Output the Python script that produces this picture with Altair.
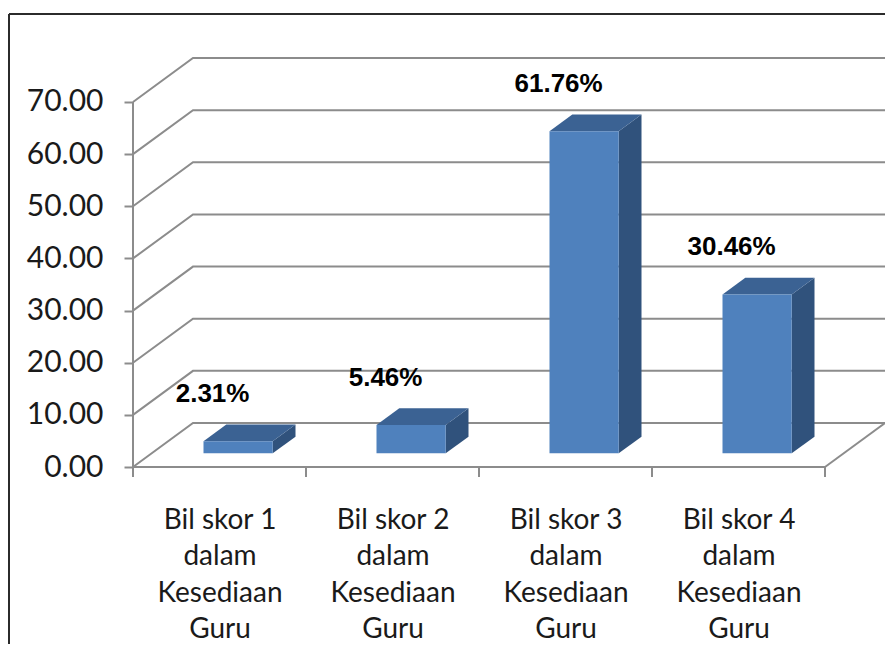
import altair as alt
import pandas as pd

# ---------------- data ----------------
label_lines = [
    ["Bil skor 1", "dalam", "Kesediaan", "Guru"],
    ["Bil skor 2", "dalam", "Kesediaan", "Guru"],
    ["Bil skor 3", "dalam", "Kesediaan", "Guru"],
    ["Bil skor 4", "dalam", "Kesediaan", "Guru"],
]
values = [2.31, 5.46, 61.76, 30.46]
value_labels = ["2.31%", "5.46%", "61.76%", "30.46%"]
y_ticks = [0, 10, 20, 30, 40, 50, 60, 70]

# ---------------- 3D geometry (in data units) ----------------
N = len(values)
YMAX = 70
W = 752          # plot width incl. depth
DEPTH_PX = 60
DX = DEPTH_PX / ((W - DEPTH_PX) / N)   # depth offset along x (category units)
DY = 8.438       # depth offset along y (value units)
F0, F1 = 0.31, 0.69   # bar depth span (fraction of the box depth)
HW = 0.2         # half bar width (category units)

GRID = "#8c8c8c"
FRONT = "#4f81bd"
SIDE = "#30527c"
TOP = "#3b6293"

# lines: back-wall gridlines, floor edges, value axis line
line_rows = []
lid = 0
for t in y_ticks:
    pts = [(0, t), (DX, t + DY), (N + DX, t + DY)]
    for k, (px, py) in enumerate(pts):
        line_rows.append({"id": lid, "o": k, "x": px, "y": py})
    lid += 1
for pts in ([(N, 0), (N + DX, DY)], [(0, 0), (N, 0)], [(0, 0), (0, YMAX)]):
    for k, (px, py) in enumerate(pts):
        line_rows.append({"id": lid, "o": k, "x": px, "y": py})
    lid += 1
lines_df = pd.DataFrame(line_rows)

front_rows, side_rows, top_rows, text_rows = [], [], [], []
for i, v in enumerate(values):
    c = i + 0.5
    front_rows.append({"x": c - HW + F0 * DX, "x2": c + HW + F0 * DX,
                       "y": F0 * DY, "y2": v + F0 * DY})
    for f in (F0, F1):
        side_rows.append({"id": i, "x": c + HW + f * DX, "y": f * DY, "y2": v + f * DY})
        top_rows.append({"id": i, "y": v + f * DY, "x": c - HW + f * DX, "x2": c + HW + f * DX})
    text_rows.append({"x": c - 0.04, "y": v, "t": value_labels[i]})
front_df = pd.DataFrame(front_rows)
side_df = pd.DataFrame(side_rows)
top_df = pd.DataFrame(top_rows)
text_df = pd.DataFrame(text_rows)
tick_df = pd.DataFrame({"x": list(range(N + 1))})

# ---------------- scales / axes ----------------
xs = alt.Scale(domain=[0, N + DX], nice=False, zero=False)
ys = alt.Scale(domain=[0, YMAX + DY], nice=False, zero=False)

js_labels = "[" + ",".join(
    "[" + ",".join("'" + s + "'" for s in lines) + "]" for lines in label_lines
) + "]"

x_axis = alt.Axis(
    values=[i + 0.5 for i in range(N)],
    labelExpr=js_labels + "[floor(datum.value)]",
    title=None, grid=False, domain=False, ticks=False,
    labelAlign="center", labelFont="Lato", labelFontSize=28,
    labelColor="#1a1a1a", labelLineHeight=36.5, labelPadding=39,
    labelOverlap=False, labelBound=False, labelFlush=False,
)
y_axis = alt.Axis(
    values=y_ticks, format=".2f", title=None, grid=False, domain=False,
    tickSize=9, tickWidth=2, tickColor=GRID, labelFont="Lato", labelFontSize=30,
    labelColor="#1a1a1a", labelPadding=21, labelOverlap=False, labelBound=False,
    labelFlush=False,
)

X = alt.X("x:Q", scale=xs, axis=x_axis)
Y = alt.Y("y:Q", scale=ys, axis=y_axis)

lines = alt.Chart(lines_df).mark_line(color=GRID, strokeWidth=2).encode(
    x=X, y=Y, detail="id:N", order="o:Q")

xticks = alt.Chart(tick_df).mark_rule(color=GRID, strokeWidth=2).encode(
    x=X, y=alt.value(409), y2=alt.value(419))

front = alt.Chart(front_df).mark_rect(color=FRONT).encode(
    x=X, x2="x2:Q", y=Y, y2="y2:Q")

side = alt.Chart(side_df).mark_area(color=SIDE, interpolate="linear").encode(
    x=X, y=Y, y2="y2:Q", detail="id:N")

top = alt.Chart(top_df).mark_area(color=TOP, orient="horizontal", interpolate="linear").encode(
    y=Y, x=X, x2="x2:Q", detail="id:N")

texts = alt.Chart(text_df).mark_text(
    font="Liberation Sans", fontSize=26, fontWeight="bold", color="#000000",
    baseline="middle", align="center", dy=-61).encode(x=X, y=Y, text="t:N")

frame_df = pd.DataFrame({"a": [0]})
border_top = alt.Chart(frame_df).mark_rule(color="#2b2b2b", strokeWidth=2).encode(
    x=alt.value(-124), x2=alt.value(790), y=alt.value(-44))
border_left = alt.Chart(frame_df).mark_rule(color="#2b2b2b", strokeWidth=2).encode(
    x=alt.value(-124), y=alt.value(-44), y2=alt.value(640))

chart = alt.layer(lines, xticks, side, top, front, texts, border_top, border_left).properties(
    width=W, height=409,
    autosize=alt.AutoSizeParams(type="none"),
    padding={"left": 125, "top": 50, "right": 0, "bottom": 177},
    background="white",
).configure_view(stroke=None)

chart.save("out.html", embed_options={"renderer": "svg", "actions": False})
